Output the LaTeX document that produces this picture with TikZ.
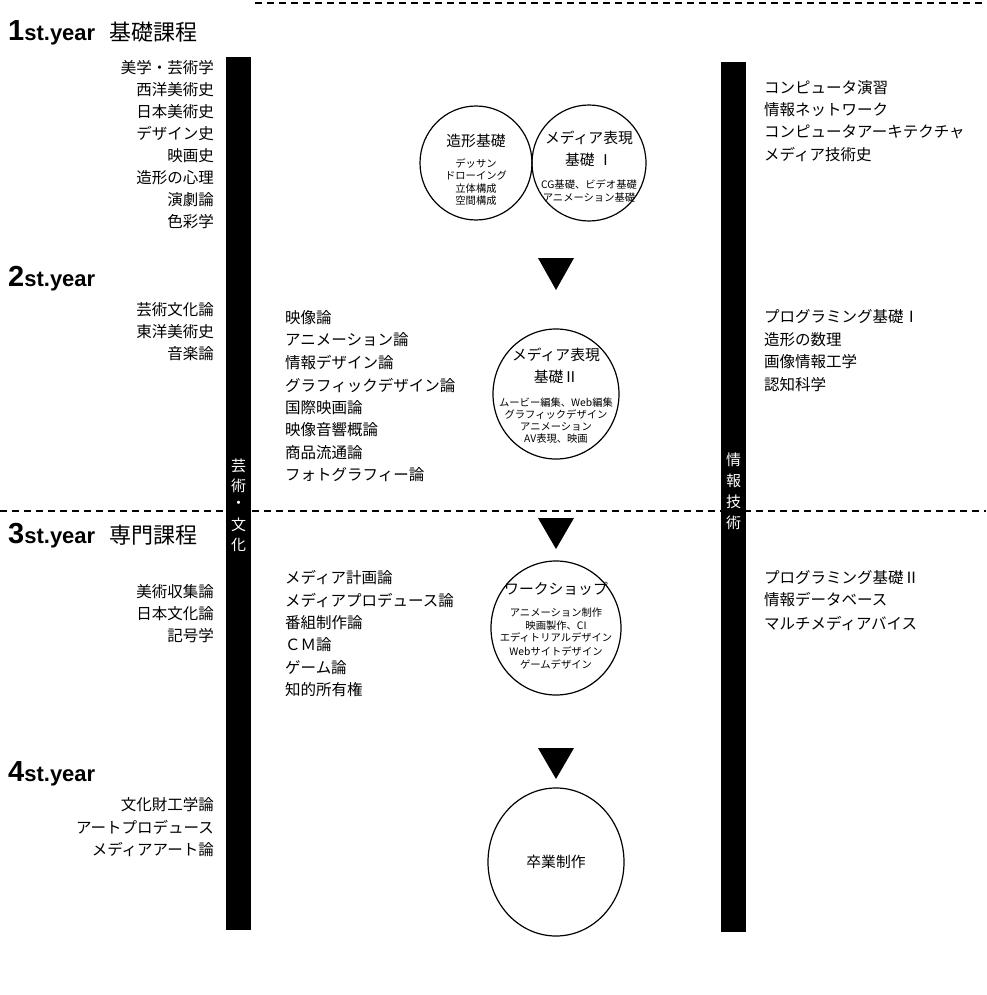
\documentclass[tikz,border=0pt]{standalone}
\usepackage{fontspec}
\setmainfont{Noto Sans CJK JP}
\newfontfamily\lat{Liberation Sans}
\usetikzlibrary{shapes.geometric}
\begin{document}
\begin{tikzpicture}[x=1pt,y=-1pt,
  lst/.style={inner sep=0pt, font=\fontsize{15.5}{15.5}\selectfont},
  llst/.style={lst, anchor=east},
  rlst/.style={lst, anchor=west},
  circ/.style={draw, line width=1.2pt, ellipse, inner sep=0pt},
  cmain/.style={inner sep=0pt, font=\fontsize{14.8}{14.8}\selectfont},
  csmall/.style={inner sep=0pt, font=\fontsize{10.3}{10.3}\selectfont},
  dashline/.style={line width=1.1pt, dash pattern=on 7pt off 5pt},
  barlab/.style={inner sep=0pt, text=white, font=\fontsize{15}{15}\selectfont},
  yr/.style={inner sep=0pt, anchor=base west},
  tri/.style={fill=black}
]
\useasboundingbox (0,0) rectangle (986,995);

% dashed lines
\coordinate (t0) at (255,3); \coordinate (t1) at (986,3);
\draw[dashline] (t0) -- (t1);
\coordinate (m0) at (0,511); \coordinate (m1) at (986,511);
\draw[dashline] (m0) -- (m1);

% bars
\fill (226,57) rectangle (251,930);
\fill (721,62) rectangle (746,932);
\node[barlab] (b1) at (238.5,466) {芸};
\node[barlab] (b2) at (238.5,486) {術};
\node[barlab] (b3) at (238.5,505) {・};
\node[barlab] (b4) at (238.5,525) {文};
\node[barlab] (b5) at (238.5,545) {化};
\node[barlab] (r1) at (733.5,460) {情};
\node[barlab] (r2) at (733.5,481) {報};
\node[barlab] (r3) at (733.5,502) {技};
\node[barlab] (r4) at (733.5,523) {術};

% year titles
\node[yr] (y1) at (8,41) {{\lat\bfseries\fontsize{29}{29}\selectfont 1}{\lat\bfseries\fontsize{22}{22}\selectfont st.year}\hspace{14pt}{\fontsize{22}{22}\selectfont 基礎課程}};
\node[yr] (y2) at (8,286) {{\lat\bfseries\fontsize{29}{29}\selectfont 2}{\lat\bfseries\fontsize{22}{22}\selectfont st.year}};
\node[yr] (y3) at (8,543) {{\lat\bfseries\fontsize{29}{29}\selectfont 3}{\lat\bfseries\fontsize{22}{22}\selectfont st.year}\hspace{14pt}{\fontsize{22}{22}\selectfont 専門課程}};
\node[yr] (y4) at (8,781) {{\lat\bfseries\fontsize{29}{29}\selectfont 4}{\lat\bfseries\fontsize{22}{22}\selectfont st.year}};

% left lists
\node[llst] (l11) at (214,68) {美学・芸術学};
\node[llst] (l12) at (214,90) {西洋美術史};
\node[llst] (l13) at (214,112) {日本美術史};
\node[llst] (l14) at (214,134) {デザイン史};
\node[llst] (l15) at (214,156) {映画史};
\node[llst] (l16) at (214,178) {造形の心理};
\node[llst] (l17) at (214,200) {演劇論};
\node[llst] (l18) at (214,222) {色彩学};
\node[llst] (l21) at (214,310) {芸術文化論};
\node[llst] (l22) at (214,332) {東洋美術史};
\node[llst] (l23) at (214,354) {音楽論};
\node[llst] (l31) at (214,592) {美術収集論};
\node[llst] (l32) at (214,614) {日本文化論};
\node[llst] (l33) at (214,636) {記号学};
\node[llst] (l41) at (214,805) {文化財工学論};
\node[llst] (l42) at (214,827) {アートプロデュース};
\node[llst] (l43) at (214,849) {メディアアート論};

% middle lists
\node[rlst] (m21) at (285,318) {映像論};
\node[rlst] (m22) at (285,340) {アニメーション論};
\node[rlst] (m23) at (285,363) {情報デザイン論};
\node[rlst] (m24) at (285,385) {グラフィックデザイン論};
\node[rlst] (m25) at (285,408) {国際映画論};
\node[rlst] (m26) at (285,430) {映像音響概論};
\node[rlst] (m27) at (285,453) {商品流通論};
\node[rlst] (m28) at (285,475) {フォトグラフィー論};
\node[rlst] (m31) at (285,578) {メディア計画論};
\node[rlst] (m32) at (285,600) {メディアプロデュース論};
\node[rlst] (m33) at (285,623) {番組制作論};
\node[rlst] (m34) at (285,645) {ＣＭ論};
\node[rlst] (m35) at (285,668) {ゲーム論};
\node[rlst] (m36) at (285,690) {知的所有権};

% right lists
\node[rlst] (r11) at (764,88) {コンピュータ演習};
\node[rlst] (r12) at (764,110) {情報ネットワーク};
\node[rlst] (r13) at (764,132) {コンピュータアーキテクチャ};
\node[rlst] (r14) at (764,155) {メディア技術史};
\node[rlst] (r21) at (764,317) {プログラミング基礎Ⅰ};
\node[rlst] (r22) at (764,340) {造形の数理};
\node[rlst] (r23) at (764,362) {画像情報工学};
\node[rlst] (r24) at (764,385) {認知科学};
\node[rlst] (r31) at (764,578) {プログラミング基礎Ⅱ};
\node[rlst] (r32) at (764,600) {情報データベース};
\node[rlst] (r33) at (764,623) {マルチメディアバイス};

% circles
\node[circ, minimum width=112pt, minimum height=114pt] (c1) at (476,163) {};
\node[cmain] (c1a) at (476,141) {造形基礎};
\node[csmall] (c1b) at (476,163) {デッサン};
\node[csmall] (c1c) at (476,176) {ドローイング};
\node[csmall] (c1d) at (476,189) {立体構成};
\node[csmall] (c1e) at (476,201) {空間構成};

\node[circ, minimum width=114pt, minimum height=116pt] (c2) at (589,163) {};
\node[cmain] (c2a) at (589,138) {メディア表現};
\node[cmain] (c2b) at (589,160) {基礎 Ⅰ};
\node[csmall] (c2c) at (589,185) {CG基礎、ビデオ基礎};
\node[csmall] (c2d) at (589,198) {アニメーション基礎};

\node[circ, minimum width=126pt, minimum height=130pt] (c3) at (556,394) {};
\node[cmain] (c3a) at (556,355) {メディア表現};
\node[cmain] (c3b) at (556,377) {基礎Ⅱ};
\node[csmall] (c3c) at (556,403) {ムービー編集、Web編集};
\node[csmall] (c3d) at (556,415) {グラフィックデザイン};
\node[csmall] (c3e) at (556,427) {アニメーション};
\node[csmall] (c3f) at (556,439) {AV表現、映画};

\node[circ, minimum width=130pt, minimum height=134pt] (c4) at (556,628) {};
\node[cmain] (c4a) at (556,589) {ワークショップ};
\node[csmall] (c4b) at (556,613) {アニメーション制作};
\node[csmall] (c4c) at (556,626) {映画製作、CI};
\node[csmall] (c4d) at (556,638) {エディトリアルデザイン};
\node[csmall] (c4e) at (556,651) {Webサイトデザイン};
\node[csmall] (c4f) at (556,664) {ゲームデザイン};

\node[circ, minimum width=136pt, minimum height=148pt] (c5) at (556,862) {};
\node[cmain] (c5t) at (556,862) {卒業制作};

% triangles
\fill[tri] (538,258) -- (574,258) -- (556,290) -- cycle;
\fill[tri] (538,518) -- (574,518) -- (556,549) -- cycle;
\fill[tri] (538,748) -- (574,748) -- (556,779) -- cycle;
\end{tikzpicture}
\end{document}
